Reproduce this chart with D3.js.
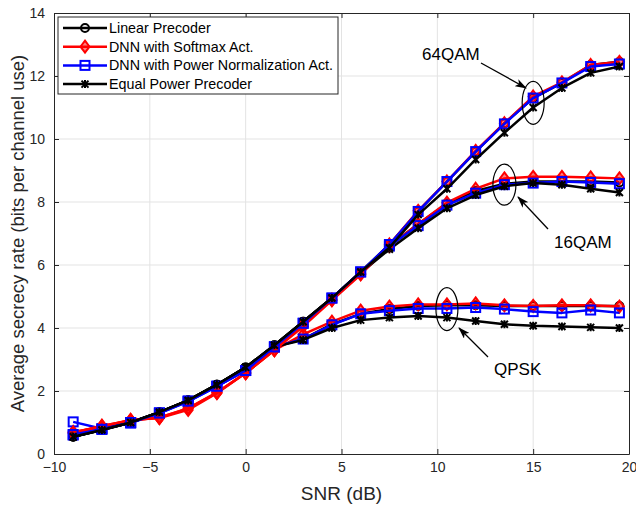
<!DOCTYPE html>
<html>
<head>
<meta charset="utf-8">
<script src="https://cdn.jsdelivr.net/npm/d3@7"></script>
<style>
  body { margin: 0; background: #fff; }
  text { font-family: "Liberation Sans", Arial, sans-serif; }
</style>
</head>
<body>
<div id="chart"></div>
<script>
// SNR points (dB)
const snr = [-9, -7.5, -6, -4.5, -3, -1.5, 0, 1.5, 3, 4.5, 6, 7.5, 9, 10.5, 12, 13.5, 15, 16.5, 18, 19.5];

// 64QAM
const linear64  = [0.55, 0.78, 1.0, 1.32, 1.7, 2.2, 2.75, 3.45, 4.2, 4.95, 5.78, 6.65, 7.7, 8.65, 9.6, 10.5, 11.3, 11.78, 12.35, 12.45];
const softmax64 = [0.68, 0.88, 1.08, 1.15, 1.45, 1.95, 2.57, 3.3, 4.1, 4.9, 5.72, 6.65, 7.72, 8.65, 9.62, 10.5, 11.35, 11.8, 12.35, 12.45];
const pn64      = [0.62, 0.78, 1.0, 1.3, 1.68, 2.15, 2.65, 3.4, 4.15, 4.95, 5.78, 6.65, 7.7, 8.65, 9.6, 10.48, 11.3, 11.78, 12.3, 12.38];
const equal64   = [0.55, 0.76, 1.0, 1.33, 1.7, 2.2, 2.75, 3.45, 4.2, 4.95, 5.78, 6.55, 7.6, 8.42, 9.35, 10.2, 11.0, 11.62, 12.1, 12.3];

// 16QAM
const linear16  = [0.55, 0.78, 1.0, 1.32, 1.7, 2.2, 2.75, 3.45, 4.2, 4.95, 5.78, 6.6, 7.3, 7.95, 8.35, 8.58, 8.65, 8.65, 8.65, 8.62];
const softmax16 = [0.66, 0.9, 1.06, 1.16, 1.45, 1.95, 2.57, 3.3, 4.05, 4.88, 5.7, 6.6, 7.3, 7.98, 8.42, 8.75, 8.8, 8.8, 8.78, 8.75];
const pn16      = [0.6, 0.8, 1.0, 1.3, 1.66, 2.15, 2.65, 3.4, 4.15, 4.95, 5.78, 6.6, 7.25, 7.9, 8.28, 8.55, 8.6, 8.65, 8.62, 8.58];
const equal16   = [0.55, 0.76, 1.0, 1.33, 1.7, 2.2, 2.75, 3.45, 4.2, 4.95, 5.75, 6.5, 7.17, 7.8, 8.22, 8.5, 8.6, 8.55, 8.42, 8.3];

// QPSK
const linearQ   = [0.56, 0.78, 1.0, 1.32, 1.7, 2.2, 2.72, 3.4, 3.65, 4.12, 4.45, 4.6, 4.7, 4.72, 4.72, 4.7, 4.7, 4.7, 4.7, 4.7];
const softmaxQ  = [0.7, 0.86, 1.08, 1.14, 1.4, 1.93, 2.57, 3.3, 3.8, 4.2, 4.55, 4.68, 4.75, 4.75, 4.78, 4.72, 4.7, 4.72, 4.72, 4.68];
const pnQ       = [1.02, 0.8, 0.98, 1.3, 1.68, 2.15, 2.65, 3.4, 3.65, 4.1, 4.45, 4.55, 4.62, 4.62, 4.65, 4.6, 4.52, 4.48, 4.57, 4.48];
const equalQ    = [0.55, 0.76, 1.0, 1.33, 1.7, 2.2, 2.75, 3.4, 3.62, 4.0, 4.25, 4.33, 4.38, 4.33, 4.22, 4.12, 4.07, 4.05, 4.02, 4.0];

const legendNames = ["Linear Precoder", "DNN with Softmax Act.", "DNN with Power Normalization Act.", "Equal Power Precoder"];
const xTicks = [-10, -5, 0, 5, 10, 15, 20];
const yTicks = [0, 2, 4, 6, 8, 10, 12, 14];

const margin = { top: 13, right: 7, bottom: 54, left: 54 },
      W = 636, H = 508,
      width = W - margin.left - margin.right,
      height = H - margin.top - margin.bottom;

const svg = d3.select("#chart").append("svg")
  .attr("width", W).attr("height", H);

const g = svg.append("g").attr("transform", `translate(${margin.left},${margin.top})`);

const x = d3.scaleLinear().domain([-10, 20]).range([0, width]);
const y = d3.scaleLinear().domain([0, 14]).range([height, 0]);

// grid
g.append("g").selectAll("line").data(xTicks.slice(1, -1)).enter().append("line")
  .attr("x1", d => x(d)).attr("x2", d => x(d)).attr("y1", 0).attr("y2", height)
  .attr("stroke", "#e3e3e3").attr("stroke-width", 1);
g.append("g").selectAll("line").data(yTicks.slice(1, -1)).enter().append("line")
  .attr("y1", d => y(d)).attr("y2", d => y(d)).attr("x1", 0).attr("x2", width)
  .attr("stroke", "#e3e3e3").attr("stroke-width", 1);

// axes (MATLAB style, ticks inside)
const axColor = "#262626";
function styleAxis(sel, hideText) {
  sel.select(".domain").attr("stroke", axColor);
  sel.selectAll(".tick line").attr("stroke", axColor);
  sel.selectAll(".tick text").attr("fill", axColor).style("font-size", "14px")
    .style("font-family", "Liberation Sans, Arial, sans-serif");
  if (hideText) sel.selectAll(".tick text").remove();
}
g.append("g").attr("transform", `translate(0,${height})`)
  .call(d3.axisBottom(x).tickValues(xTicks).tickSize(-5).tickSizeOuter(0).tickPadding(8))
  .call(s => styleAxis(s, false));
g.append("g")
  .call(d3.axisTop(x).tickValues(xTicks).tickSize(-5).tickSizeOuter(0))
  .call(s => styleAxis(s, true));
g.append("g")
  .call(d3.axisLeft(y).tickValues(yTicks).tickSize(-5).tickSizeOuter(0).tickPadding(9))
  .call(s => styleAxis(s, false));
g.append("g").attr("transform", `translate(${width},0)`)
  .call(d3.axisRight(y).tickValues(yTicks).tickSize(-5).tickSizeOuter(0))
  .call(s => styleAxis(s, true));

// series
const styles = [
  { color: "#000000", marker: "circle" },
  { color: "#ff0000", marker: "diamond" },
  { color: "#0000ff", marker: "square" },
  { color: "#000000", marker: "cross" }
];
const groups = [
  [linearQ, softmaxQ, pnQ, equalQ],
  [linear16, softmax16, pn16, equal16],
  [linear64, softmax64, pn64, equal64]
];

function drawMarker(sel, type, color) {
  if (type === "circle") {
    sel.append("circle").attr("r", 4).attr("fill", "none").attr("stroke", color).attr("stroke-width", 2);
  } else if (type === "diamond") {
    sel.append("path").attr("d", "M0,-6L4.5,0L0,6L-4.5,0Z").attr("fill", color).attr("fill-opacity", 0.5)
      .attr("stroke", color).attr("stroke-width", 2);
  } else if (type === "square") {
    sel.append("rect").attr("x", -4.5).attr("y", -4.5).attr("width", 9).attr("height", 9)
      .attr("fill", "none").attr("stroke", color).attr("stroke-width", 2);
  } else {
    sel.append("path").attr("d", "M-3.5,-3.5L3.5,3.5M-3.5,3.5L3.5,-3.5M0,-4V4")
      .attr("stroke", color).attr("stroke-width", 2).attr("fill", "none");
  }
}

const line = d3.line().x((d, i) => x(snr[i])).y(d => y(d));

groups.forEach(series => {
  series.forEach((vals, k) => {
    const st = styles[k];
    g.append("path").datum(vals).attr("d", line)
      .attr("fill", "none").attr("stroke", st.color).attr("stroke-width", 2.5)
      .attr("stroke-linejoin", "round");
    g.append("g").selectAll("g").data(vals).enter().append("g")
      .attr("transform", (d, i) => `translate(${x(snr[i])},${y(d)})`)
      .each(function () { drawMarker(d3.select(this), st.marker, st.color); });
  });
});

// annotations: ellipses + arrows + labels
const defs = svg.append("defs");
defs.append("marker").attr("id", "arr").attr("viewBox", "0 0 12 8").attr("refX", 11).attr("refY", 4)
  .attr("markerWidth", 12).attr("markerHeight", 8).attr("markerUnits", "userSpaceOnUse").attr("orient", "auto")
  .append("path").attr("d", "M0,0L12,4L0,8L3,4Z").attr("fill", "#000");

const notes = [
  { snr: 15, val: 11.15, rx: 11, ry: 21.5, label: "64QAM", lx: 422, ly: 60, ax1: 481, ay1: 63, ax2: 526, ay2: 88 },
  { snr: 13.5, val: 8.55, rx: 11.5, ry: 20.5, label: "16QAM", lx: 554, ly: 248, ax1: 548, ay1: 229, ax2: 518, ay2: 197 },
  { snr: 10.5, val: 4.6, rx: 11, ry: 21.5, label: "QPSK", lx: 494, ly: 375, ax1: 488, ay1: 357, ax2: 459, ay2: 328 }
];
notes.forEach(n => {
  g.append("ellipse").attr("cx", x(n.snr)).attr("cy", y(n.val)).attr("rx", n.rx).attr("ry", n.ry)
    .attr("fill", "none").attr("stroke", "#000").attr("stroke-width", 1.2);
  svg.append("line").attr("x1", n.ax1).attr("y1", n.ay1).attr("x2", n.ax2).attr("y2", n.ay2)
    .attr("stroke", "#000").attr("stroke-width", 1.3).attr("marker-end", "url(#arr)");
  svg.append("text").attr("x", n.lx).attr("y", n.ly).style("font-size", "17px").attr("fill", "#000").text(n.label);
});

// legend
const leg = svg.append("g").attr("transform", "translate(58,17)");
leg.append("rect").attr("width", 280).attr("height", 77).attr("fill", "#fff")
  .attr("stroke", axColor).attr("stroke-width", 1);
legendNames.forEach((name, k) => {
  const st = styles[k];
  const row = leg.append("g").attr("transform", `translate(0,${11 + k * 18.7})`);
  row.append("line").attr("x1", 5).attr("x2", 49).attr("stroke", st.color).attr("stroke-width", 2.5);
  drawMarker(row.append("g").attr("transform", "translate(27,0)"), st.marker, st.color);
  row.append("text").attr("x", 51).attr("y", 5).style("font-size", "14.3px").attr("fill", "#000").text(name);
});

// axis labels
svg.append("text").attr("x", margin.left + width / 2).attr("y", 500).attr("text-anchor", "middle")
  .style("font-size", "19px").attr("fill", axColor).text("SNR (dB)");
svg.append("text").attr("transform", `translate(24,${margin.top + height / 2}) rotate(-90)`)
  .attr("text-anchor", "middle").style("font-size", "18.5px").attr("fill", axColor)
  .text("Average secrecy rate (bits per channel use)");
</script>
</body>
</html>
